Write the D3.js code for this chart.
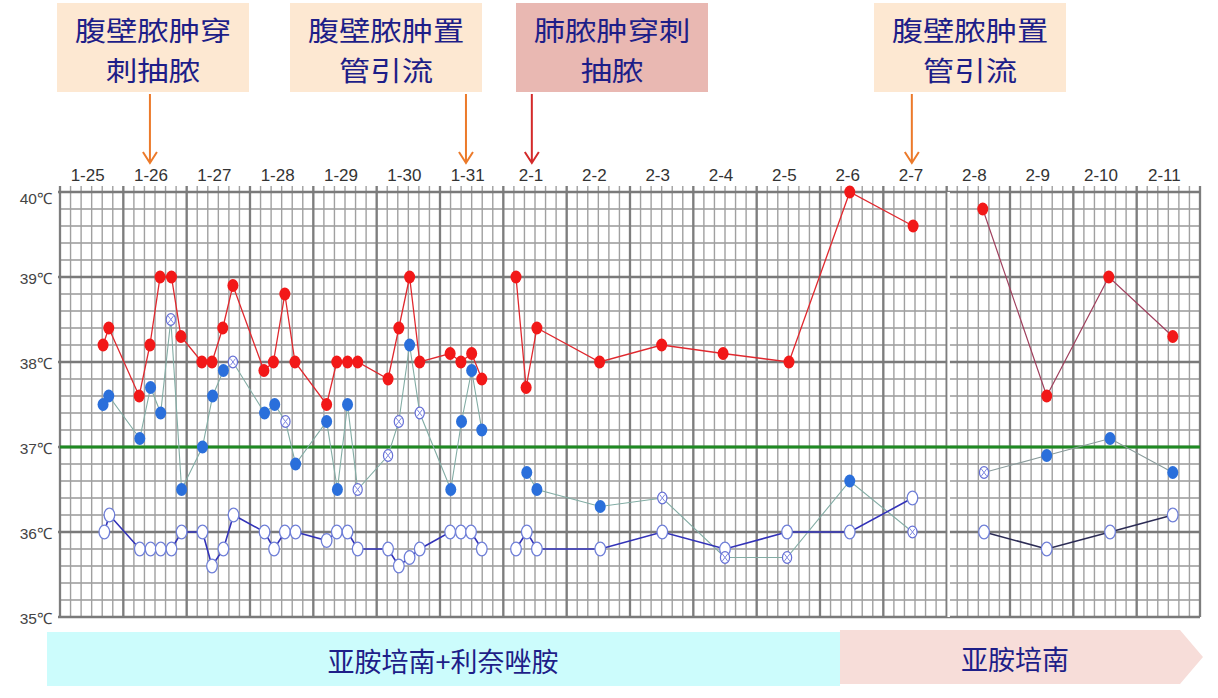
<!DOCTYPE html>
<html>
   <head>
      <meta charset="utf-8">
      <title>体温单</title>
      <style media="screen">
         body { margin: 0; background: #ffffff; }
         .ylab { font-family: "Liberation Sans", Arial, sans-serif; font-size: 15.5px; fill: #444; }
         .xlab { font-family: "Liberation Sans", Arial, sans-serif; font-size: 17px; fill: #333; }
         .cn { font-family: "Noto Sans CJK SC", sans-serif; fill: #1e1e88; }
      </style>
      <script type="text/javascript" src="https://d3js.org/d3.v7.min.js"></script>
   </head>
   <body>
      <script>
         // width and height of the page
         var w = 1218;
         var h = 698;

         // day labels along the top
         var days = ["1-25", "1-26", "1-27", "1-28", "1-29", "1-30", "1-31", "2-1", "2-2",
                     "2-3", "2-4", "2-5", "2-6", "2-7", "2-8", "2-9", "2-10", "2-11"];
         var tempTicks = [35, 36, 37, 38, 39, 40];

         // [time in days from 1-25 00:00, temperature]
         var redA = [[0.68,38.2],[0.77,38.4],[1.25,37.6],[1.42,38.2],[1.58,39.0],[1.76,39.0],
                     [1.91,38.3],[2.24,38.0],[2.40,38.0],[2.57,38.4],[2.73,38.9],[3.22,37.9],
                     [3.37,38.0],[3.55,38.8],[3.71,38.0],[4.21,37.5],[4.37,38.0],[4.54,38.0],
                     [4.70,38.0],[5.18,37.8],[5.35,38.4],[5.52,39.0],[5.68,38.0],[6.16,38.1],
                     [6.33,38.0],[6.50,38.1],[6.66,37.8]];
         var redB = [[7.20,39.0],[7.36,37.7],[7.53,38.4],[8.52,38.0],[9.50,38.2],
                     [10.47,38.1],[11.51,38.0],[12.47,40.0],[13.47,39.6]];
         var redC = [[14.57,39.8],[15.58,37.6],[16.56,39.0],[17.57,38.3]];

         // [time, temperature, hatched marker 1/0]
         var blueA = [[0.68,37.5,0],[0.77,37.6,0],[1.26,37.1,0],[1.43,37.7,0],[1.59,37.4,0],
                      [1.75,38.5,1],[1.92,36.5,0],[2.25,37.0,0],[2.41,37.6,0],[2.58,37.9,0],
                      [2.73,38.0,1],[3.23,37.4,0],[3.39,37.5,0],[3.56,37.3,1],[3.72,36.8,0],
                      [4.21,37.3,0],[4.38,36.5,0],[4.54,37.5,0],[4.70,36.5,1],[5.18,36.9,1],
                      [5.35,37.3,1],[5.52,38.2,0],[5.68,37.4,1],[6.17,36.5,0],[6.34,37.3,0],
                      [6.50,37.9,0],[6.66,37.2,0]];
         var blueB = [[7.37,36.7,0],[7.53,36.5,0],[8.53,36.3,0],[9.51,36.4,1],[10.50,35.7,1],
                      [11.48,35.7,1],[12.47,36.6,0],[13.46,36.0,1]];
         var blueC = [[14.59,36.7,1],[15.58,36.9,0],[16.58,37.1,0],[17.57,36.7,0]];

         var navyA = [[0.70,36.0],[0.78,36.2],[1.26,35.8],[1.43,35.8],[1.59,35.8],[1.76,35.8],
                      [1.92,36.0],[2.25,36.0],[2.40,35.6],[2.58,35.8],[2.74,36.2],[3.23,36.0],
                      [3.38,35.8],[3.55,36.0],[3.72,36.0],[4.21,35.9],[4.37,36.0],[4.54,36.0],
                      [4.70,35.8],[5.18,35.8],[5.35,35.6],[5.52,35.7],[5.68,35.8],[6.16,36.0],
                      [6.33,36.0],[6.49,36.0],[6.66,35.8]];
         var navyB = [[7.20,35.8],[7.37,36.0],[7.53,35.8],[8.53,35.8],[9.51,36.0],[10.50,35.8],
                      [11.48,36.0],[12.47,36.0],[13.46,36.4]];
         var navyC = [[14.59,36.0],[15.58,35.8],[16.58,36.0],[17.57,36.2]];

         // procedures: text lines and the time they point at
         var events = [
           { text: ["腹壁脓肿穿", "刺抽脓"], t: 1.42 },
           { text: ["腹壁脓肿置", "管引流"], t: 6.41 },
           { text: ["肺脓肿穿刺", "抽脓"], t: 7.45 },
           { text: ["腹壁脓肿置", "管引流"], t: 13.45 }
         ];
         var treatments = ["亚胺培南+利奈唑胺", "亚胺培南"];

         // layout of boxes (not data)
         var boxLeft = [57, 290, 516, 874];
         var boxFill = ["#fde8d2", "#fde8d2", "#e9b8b2", "#fde8d2"];
         var arrowColor = ["#ec7a2a", "#ec7a2a", "#d42a2a", "#ec7a2a"];

         var svg = d3.select("body").append("svg")
                     .attr("width", w)
                     .attr("height", h);

         var x = d3.scaleLinear().domain([0, days.length]).range([60, 1200]);
         var y = d3.scaleLinear().domain([35, 40]).range([617, 192]);

         /*
         grid
         */
         var grid = svg.append("g");
         // minor horizontal lines every 0.2 degree
         grid.selectAll(".hmin")
             .data(d3.range(0, 26).map(function(i) { return 35 + i * 0.2; }))
             .enter().append("line")
             .attr("x1", x(0)).attr("x2", x(days.length))
             .attr("y1", function(d) { return y(d); })
             .attr("y2", function(d) { return y(d); })
             .attr("stroke", "#999999").attr("stroke-width", 1.5);
         // minor vertical lines every 4 hours
         grid.selectAll(".vmin")
             .data(d3.range(0, days.length * 6 + 1).map(function(i) { return i / 6; }))
             .enter().append("line")
             .attr("x1", function(d) { return x(d); })
             .attr("x2", function(d) { return x(d); })
             .attr("y1", 186).attr("y2", y(35))
             .attr("stroke", "#a0a0a0").attr("stroke-width", 1.4);
         // day lines
         grid.selectAll(".vmaj")
             .data(d3.range(0, days.length + 1))
             .enter().append("line")
             .attr("x1", function(d) { return x(d); })
             .attr("x2", function(d) { return x(d); })
             .attr("y1", 186).attr("y2", y(35))
             .attr("stroke", "#7e7e7e").attr("stroke-width", 2.3);
         // whole degree lines
         grid.selectAll(".hmaj")
             .data(tempTicks)
             .enter().append("line")
             .attr("x1", x(0) - 2).attr("x2", x(days.length))
             .attr("y1", function(d) { return y(d); })
             .attr("y2", function(d) { return y(d); })
             .attr("stroke", "#7a7a7a").attr("stroke-width", 2.6);

         // seam where the last four days were pasted on
         grid.append("line")
             .attr("x1", x(14) + 2).attr("x2", x(14) + 2)
             .attr("y1", y(40)).attr("y2", y(35))
             .attr("stroke", "#ffffff").attr("stroke-width", 2.5);

         // 37 degree reference
         svg.append("line")
            .attr("x1", x(0)).attr("x2", x(days.length))
            .attr("y1", y(37)).attr("y2", y(37))
            .attr("stroke", "#1f8a22").attr("stroke-width", 3);

         // axis labels
         svg.selectAll(".ylab")
            .data(tempTicks)
            .enter().append("text")
            .attr("class", "ylab")
            .attr("x", 52)
            .attr("y", function(d) { return y(d) + (d == 40 ? 6 : 1); })
            .attr("dominant-baseline", "central")
            .attr("text-anchor", "end")
            .text(function(d) { return d + "℃"; });

         svg.selectAll(".xlab")
            .data(days)
            .enter().append("text")
            .attr("class", "xlab")
            .attr("x", function(d, i) { return x(i + 0.5) - 4; })
            .attr("y", 181)
            .attr("text-anchor", "middle")
            .text(function(d) { return d; });

         /*
         lines and markers
         */
         var line = d3.line()
                      .x(function(d) { return x(d[0]); })
                      .y(function(d) { return y(d[1]); });

         function drawLine(data, color, width) {
           svg.append("path")
              .datum(data)
              .attr("d", line)
              .attr("fill", "none")
              .attr("stroke", color)
              .attr("stroke-width", width);
         }

         drawLine(blueA, "#82aca4", 1.1);
         drawLine(blueB, "#82aca4", 1.1);
         drawLine(blueC, "#889a9a", 1.1);
         drawLine(navyA, "#3232b8", 1.6);
         drawLine(navyB, "#3232b8", 1.6);
         drawLine(navyC, "#2c2c55", 1.6);
         drawLine(redA, "#e0282e", 1.3);
         drawLine(redB, "#e0282e", 1.3);
         drawLine(redC, "#a0405e", 1.2);

         // hollow circles
         svg.selectAll(".navy")
            .data(navyA.concat(navyB, navyC))
            .enter().append("ellipse")
            .attr("cx", function(d) { return x(d[0]); })
            .attr("cy", function(d) { return y(d[1]); })
            .attr("rx", 5.3).attr("ry", 6.8)
            .attr("fill", "#ffffff")
            .attr("stroke", "#6f7fd8").attr("stroke-width", 1.3);

         // blue markers, filled or hatched
         var blues = blueA.concat(blueB, blueC);
         svg.selectAll(".bfill")
            .data(blues.filter(function(d) { return d[2] == 0; }))
            .enter().append("ellipse")
            .attr("cx", function(d) { return x(d[0]); })
            .attr("cy", function(d) { return y(d[1]); })
            .attr("rx", 5.5).attr("ry", 6.5)
            .attr("fill", "#2a6fdb");

         var hatch = svg.selectAll(".bhatch")
            .data(blues.filter(function(d) { return d[2] == 1; }))
            .enter().append("g")
            .attr("transform", function(d) { return "translate(" + x(d[0]) + "," + y(d[1]) + ")"; });
         hatch.append("ellipse")
              .attr("rx", 4.6).attr("ry", 5.8)
              .attr("fill", "#ffffff")
              .attr("stroke", "#6670d6").attr("stroke-width", 1.2);
         hatch.append("path")
              .attr("d", "M-2.6,-3.4L2.6,3.4M-2.6,3.4L2.6,-3.4")
              .attr("stroke", "#7d86e0").attr("stroke-width", 1);

         // red dots
         svg.selectAll(".red")
            .data(redA.concat(redB, redC))
            .enter().append("ellipse")
            .attr("cx", function(d) { return x(d[0]); })
            .attr("cy", function(d) { return y(d[1]); })
            .attr("rx", 5.5).attr("ry", 6.5)
            .attr("fill", "#f21818");

         /*
         procedure boxes and arrows
         */
         var ev = svg.selectAll(".event")
                     .data(events)
                     .enter().append("g");
         ev.append("rect")
           .attr("x", function(d, i) { return boxLeft[i]; })
           .attr("y", 3)
           .attr("width", 192).attr("height", 89)
           .attr("fill", function(d, i) { return boxFill[i]; });
         ev.each(function(d, i) {
           var g = d3.select(this);
           // each line a separate text, stretched a little sideways
           d.text.forEach(function(s, k) {
             g.append("text")
              .attr("class", "cn")
              .attr("transform", "translate(" + (boxLeft[i] + 96) + "," + (29 + k * 40) + ") scale(1.14,1)")
              .attr("dominant-baseline", "central")
              .attr("text-anchor", "middle")
              .style("font-size", "27.5px")
              .text(s);
           });
           var ax = x(d.t);
           g.append("path")
            .attr("d", "M" + ax + ",94L" + ax + ",163M" + (ax - 7) + ",152L" + ax + ",163L" + (ax + 7) + ",152")
            .attr("fill", "none")
            .attr("stroke", arrowColor[i])
            .attr("stroke-width", 2);
         });

         /*
         treatment bars at the bottom
         */
         svg.append("rect")
            .attr("x", 47).attr("y", 632)
            .attr("width", 793).attr("height", 54)
            .attr("fill", "#ccfcfc");
         svg.append("path")
            .attr("d", "M840,630L1180,630L1203,657L1180,684L840,684Z")
            .attr("fill", "#f7ddd9");
         svg.append("text")
            .attr("class", "cn")
            .attr("x", 443).attr("y", 660)
            .attr("dominant-baseline", "central")
            .attr("text-anchor", "middle")
            .style("font-size", "27px")
            .text(treatments[0]);
         svg.append("text")
            .attr("class", "cn")
            .attr("x", 1015).attr("y", 658)
            .attr("dominant-baseline", "central")
            .attr("text-anchor", "middle")
            .style("font-size", "27px")
            .text(treatments[1]);
      </script>
   </body>
</html>
